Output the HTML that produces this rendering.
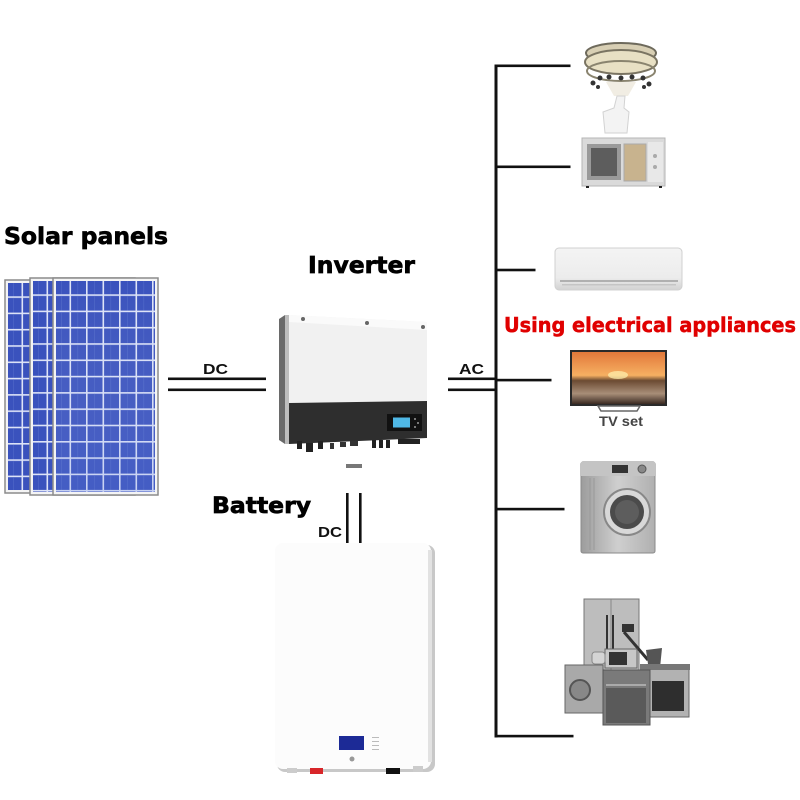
<!DOCTYPE html>
<html><head><meta charset="utf-8"><style>
html,body{margin:0;padding:0;background:#fff;}
svg{display:block;}
</style></head><body>
<svg width="800" height="800" viewBox="0 0 800 800" xmlns="http://www.w3.org/2000/svg">
<defs>
  <pattern id="cells" patternUnits="userSpaceOnUse" width="16.5" height="16.3">
    <rect width="16.5" height="16.3" fill="#3a52bd"/>
    <rect x="0" y="0" width="16.5" height="1.6" fill="#dde3f7"/>
    <rect x="0" y="0" width="1.6" height="16.3" fill="#dde3f7"/>
    <rect x="8" y="1.6" width="0.6" height="14.7" fill="#5069c8"/>
  </pattern>
  <linearGradient id="panelShade" x1="0" y1="0" x2="0" y2="1">
    <stop offset="0" stop-color="#ffffff" stop-opacity="0"/>
    <stop offset="1" stop-color="#6a86e0" stop-opacity="0.2"/>
  </linearGradient>
  <linearGradient id="tvsky" x1="0" y1="0" x2="0" y2="1">
    <stop offset="0" stop-color="#e2783a"/>
    <stop offset="0.45" stop-color="#f6b062"/>
    <stop offset="0.55" stop-color="#6b4a32"/>
    <stop offset="0.8" stop-color="#a88e78"/>
    <stop offset="1" stop-color="#3a2a22"/>
  </linearGradient>
  <linearGradient id="silver" x1="0" y1="0" x2="1" y2="0">
    <stop offset="0" stop-color="#9c9c9c"/>
    <stop offset="0.5" stop-color="#cfcfcf"/>
    <stop offset="1" stop-color="#b0b0b0"/>
  </linearGradient>
  <linearGradient id="acg" x1="0" y1="0" x2="0" y2="1">
    <stop offset="0" stop-color="#f4f4f4"/>
    <stop offset="0.7" stop-color="#ececec"/>
    <stop offset="1" stop-color="#d2d2d2"/>
  </linearGradient>
</defs>

<!-- Labels -->
<text x="4" y="244" font-family="DejaVu Sans, sans-serif" font-weight="bold" font-size="23" fill="#000" stroke="#000" stroke-width="0.7" textLength="164" lengthAdjust="spacingAndGlyphs">Solar panels</text>
<text x="308" y="273" font-family="DejaVu Sans, sans-serif" font-weight="bold" font-size="23" fill="#000" stroke="#000" stroke-width="0.7" textLength="107" lengthAdjust="spacingAndGlyphs">Inverter</text>
<text x="212" y="513" font-family="DejaVu Sans, sans-serif" font-weight="bold" font-size="22" fill="#000" stroke="#000" stroke-width="0.7" textLength="99" lengthAdjust="spacingAndGlyphs">Battery</text>
<text x="504" y="332" font-family="DejaVu Sans, sans-serif" font-weight="bold" font-size="20" fill="#e00000" stroke="#e00000" stroke-width="0.5" textLength="292" lengthAdjust="spacingAndGlyphs">Using electrical appliances</text>
<text x="203" y="374" font-family="Liberation Sans, sans-serif" font-weight="bold" font-size="15" fill="#111" textLength="25" lengthAdjust="spacingAndGlyphs">DC</text>
<text x="459" y="374" font-family="Liberation Sans, sans-serif" font-weight="bold" font-size="15" fill="#111" textLength="25" lengthAdjust="spacingAndGlyphs">AC</text>
<text x="318" y="537" font-family="Liberation Sans, sans-serif" font-weight="bold" font-size="15" fill="#111" textLength="24" lengthAdjust="spacingAndGlyphs">DC</text>
<text x="599" y="426" font-family="Liberation Sans, sans-serif" font-weight="bold" font-size="14" fill="#444" textLength="44" lengthAdjust="spacingAndGlyphs">TV set</text>

<!-- Solar panels -->
<g transform="translate(5,280)">
  <rect x="0" y="0" width="105" height="213" fill="#f4f4f4" stroke="#8c8c8c" stroke-width="1.5"/>
  <rect x="3" y="3" width="99" height="207" fill="url(#cells)"/>
</g>
<g transform="translate(30,278)">
  <rect x="0" y="0" width="105" height="217" fill="#f4f4f4" stroke="#8c8c8c" stroke-width="1.5"/>
  <rect x="3" y="3" width="99" height="211" fill="url(#cells)"/>
</g>
<g transform="translate(53,278)">
  <rect x="0" y="0" width="105" height="217" fill="#f4f4f4" stroke="#8c8c8c" stroke-width="1.5"/>
  <rect x="3" y="3" width="99" height="211" fill="url(#cells)"/>
  <rect x="3" y="3" width="99" height="211" fill="url(#panelShade)"/>
</g>

<!-- DC lines left -->
<rect x="168" y="377.5" width="98" height="2.6" fill="#111"/>
<rect x="168" y="388.5" width="98" height="2.6" fill="#111"/>
<!-- AC lines -->
<rect x="448" y="377.5" width="48" height="2.6" fill="#111"/>
<rect x="448" y="388.5" width="48" height="2.6" fill="#111"/>
<!-- Battery DC verticals -->
<rect x="346" y="493" width="2.6" height="50" fill="#111"/>
<rect x="359" y="493" width="2.6" height="50" fill="#111"/>

<!-- Inverter -->
<polygon points="279,319 285,315 285,444 279,440" fill="#6a6a6a"/>
<polygon points="285,315 289,315 289,444 285,444" fill="#bdbdbd"/>
<polygon points="289,315 427,322 427,401 289,403" fill="#f1f1f1"/>
<polygon points="289,315 427,322 427,330 289,322" fill="#fafafa"/>
<polygon points="289,403 427,401 427,438 289,444" fill="#2e2e2e"/>
<circle cx="303" cy="319" r="2" fill="#666"/>
<circle cx="367" cy="323" r="2" fill="#666"/>
<circle cx="423" cy="327" r="2" fill="#666"/>
<rect x="387" y="414" width="35" height="17" fill="#111"/>
<rect x="393" y="417.5" width="17" height="10" fill="#4fb8e6"/>
<circle cx="415" cy="419" r="1" fill="#999"/>
<circle cx="418" cy="423" r="1" fill="#999"/>
<circle cx="415" cy="427" r="1" fill="#999"/>
<!-- connectors -->
<rect x="297" y="441" width="5" height="8" fill="#222"/>
<rect x="306" y="443" width="7" height="9" fill="#222"/>
<rect x="318" y="441" width="5" height="8" fill="#222"/>
<rect x="330" y="443" width="4" height="6" fill="#333"/>
<rect x="340" y="442" width="6" height="5" fill="#333"/>
<rect x="350" y="441" width="8" height="5" fill="#333"/>
<rect x="372" y="440" width="4" height="8" fill="#222"/>
<rect x="379" y="440" width="4" height="8" fill="#222"/>
<rect x="386" y="440" width="4" height="8" fill="#222"/>
<rect x="398" y="439" width="22" height="5" fill="#222"/>
<rect x="346" y="464" width="16" height="4" fill="#777"/>

<!-- Battery -->
<rect x="277" y="545" width="158" height="227" rx="8" fill="#c8c8c8"/>
<rect x="275" y="543" width="156" height="226" rx="8" fill="#fcfcfc"/>
<rect x="428" y="550" width="4" height="212" fill="#e2e2e2"/>
<rect x="339" y="736" width="25" height="14" fill="#1c2a96"/>
<rect x="372" y="737" width="7" height="1" fill="#bbb"/>
<rect x="372" y="741" width="7" height="1" fill="#bbb"/>
<rect x="372" y="745" width="7" height="1" fill="#bbb"/>
<rect x="372" y="749" width="7" height="1" fill="#bbb"/>
<circle cx="352" cy="759" r="2.5" fill="#999"/>
<rect x="287" y="768" width="10" height="5" fill="#ccc"/>
<rect x="310" y="768" width="13" height="6" fill="#d8262a"/>
<rect x="386" y="768" width="14" height="6" fill="#111"/>
<rect x="413" y="766" width="10" height="6" fill="#ccc"/>

<!-- Bus -->
<rect x="494.5" y="64.5" width="3" height="673" fill="#111"/>
<rect x="494.5" y="64.5" width="76" height="2.6" fill="#111"/>
<rect x="494.5" y="165.5" width="76" height="2.6" fill="#111"/>
<rect x="494.5" y="268.7" width="41" height="2.6" fill="#111"/>
<rect x="494.5" y="378.8" width="57" height="2.6" fill="#111"/>
<rect x="494.5" y="507.8" width="70" height="2.6" fill="#111"/>
<rect x="494.5" y="734.8" width="79" height="2.6" fill="#111"/>

<!-- Chandelier -->
<ellipse cx="621" cy="53" rx="35" ry="10" fill="#d8cfb4" stroke="#6e6a5c" stroke-width="2"/>
<ellipse cx="621" cy="62" rx="36" ry="12" fill="#e8e0c4" stroke="#7a7462" stroke-width="2"/>
<ellipse cx="621" cy="71" rx="34" ry="10" fill="none" stroke="#8a846f" stroke-width="2"/>
<g fill="#333">
  <circle cx="593" cy="83" r="2.5"/><circle cx="600" cy="78" r="2.5"/><circle cx="609" cy="77" r="2.5"/>
  <circle cx="621" cy="78" r="2.5"/><circle cx="632" cy="77" r="2.5"/><circle cx="643" cy="78" r="2.5"/>
  <circle cx="649" cy="84" r="2.5"/><circle cx="598" cy="87" r="2"/><circle cx="644" cy="87" r="2"/>
</g>
<polygon points="606,82 636,82 628,96 614,96" fill="#ede8dc" opacity="0.8"/>
<path d="M617,96 L625,96 L624,108 L629,112 L627,133 L605,133 L603,112 L614,108 Z" fill="#f3f3f3" stroke="#d2d2d2" stroke-width="1"/>

<!-- Microwave -->
<rect x="582" y="138" width="83" height="48" fill="#dadada" stroke="#b5b5b5"/>
<rect x="587" y="144" width="34" height="36" fill="#9a9a9a"/>
<rect x="591" y="148" width="26" height="28" fill="#5d5d5d"/>
<rect x="624" y="144" width="22" height="37" fill="#c8b38e" stroke="#aaa"/>
<rect x="648" y="142" width="15" height="40" fill="#e8e8e8"/>
<circle cx="655" cy="156" r="2" fill="#aaa"/>
<circle cx="655" cy="167" r="2" fill="#aaa"/>
<rect x="586" y="186" width="3" height="2" fill="#222"/><rect x="659" y="186" width="3" height="2" fill="#222"/>

<!-- AC unit -->
<rect x="555" y="248" width="127" height="42" rx="4" fill="url(#acg)" stroke="#d0d0d0"/>
<rect x="560" y="280" width="118" height="2" fill="#b0b0b0"/>
<rect x="562" y="284" width="114" height="1.5" fill="#c5c5c5"/>

<!-- TV -->
<rect x="570" y="350" width="97" height="56" fill="#2a2a2a"/>
<rect x="572" y="352" width="93" height="52" fill="url(#tvsky)"/>
<ellipse cx="618" cy="375" rx="10" ry="4" fill="#fff2b0" opacity="0.7"/>
<polygon points="598,406 640,406 637,411 601,411" fill="none" stroke="#666" stroke-width="1.5"/>

<!-- Washing machine -->
<rect x="581" y="462" width="74" height="91" rx="2" fill="url(#silver)" stroke="#8a8a8a"/>
<rect x="581" y="462" width="74" height="14" fill="#c4c4c4"/>
<rect x="612" y="465" width="16" height="8" fill="#333"/>
<circle cx="642" cy="469" r="4" fill="#888" stroke="#555"/>
<circle cx="627" cy="512" r="23" fill="#d8d8d8" stroke="#888" stroke-width="2"/>
<circle cx="627" cy="512" r="17" fill="#4b4b4b"/>
<circle cx="627" cy="512" r="12" fill="#5d5d5d"/>
<line x1="590" y1="478" x2="590" y2="550" stroke="#999" stroke-width="1"/>
<line x1="594" y1="478" x2="594" y2="550" stroke="#999" stroke-width="1"/>

<!-- Kitchen cluster -->
<rect x="584" y="599" width="55" height="72" fill="#bdbdbd" stroke="#777"/>
<line x1="611" y1="599" x2="611" y2="671" stroke="#888"/>
<rect x="606" y="615" width="2" height="35" fill="#333"/>
<rect x="612" y="615" width="2" height="35" fill="#333"/>
<rect x="622" y="624" width="12" height="8" fill="#333"/>
<line x1="624" y1="632" x2="648" y2="660" stroke="#333" stroke-width="3"/>
<path d="M646,650 L662,648 L660,668 L648,664 Z" fill="#555"/>
<rect x="565" y="665" width="38" height="48" fill="#a9a9a9" stroke="#666"/>
<circle cx="580" cy="690" r="10" fill="#888" stroke="#555" stroke-width="2"/>
<rect x="647" y="668" width="42" height="49" fill="#b2b2b2" stroke="#666"/>
<rect x="652" y="681" width="32" height="30" fill="#2e2e2e"/>
<rect x="640" y="664" width="50" height="6" fill="#777"/>
<rect x="603" y="670" width="47" height="55" fill="#7a7a7a" stroke="#555"/>
<rect x="606" y="688" width="40" height="35" fill="#5a5a5a"/>
<rect x="606" y="684" width="40" height="2" fill="#aaa"/>
<rect x="605" y="649" width="32" height="19" fill="#c7c7c7" stroke="#666"/>
<rect x="609" y="652" width="18" height="13" fill="#333"/>
<rect x="592" y="652" width="13" height="12" rx="3" fill="#d4d4d4" stroke="#888"/>
</svg>
</body></html>
